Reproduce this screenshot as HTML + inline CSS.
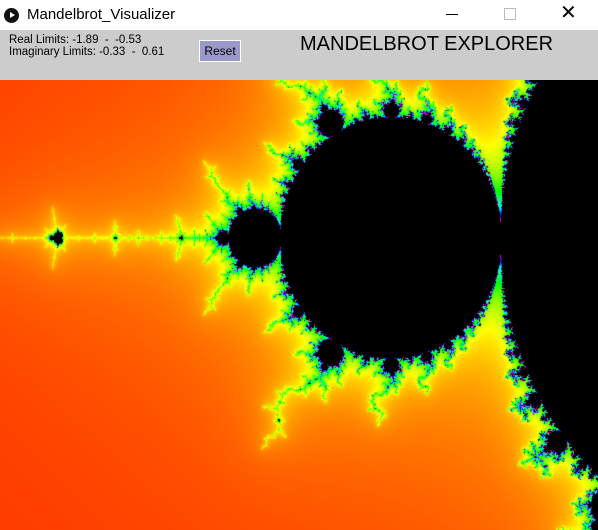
<!DOCTYPE html>
<html><head><meta charset="utf-8"><style>
body{margin:0;width:598px;height:530px;overflow:hidden;background:#fff;font-family:"Liberation Sans",sans-serif;position:relative}
.abs{position:absolute}
</style></head><body>
<div class="abs" style="left:0;top:0;width:598px;height:30px;background:#fff">
  <div class="abs" style="left:4px;top:8px;width:15px;height:15px;border-radius:50%;background:#111"></div>
  <div class="abs" style="left:10px;top:12px;width:0;height:0;border-left:5px solid #fff;border-top:3.5px solid transparent;border-bottom:3.5px solid transparent"></div>
  <div class="abs" style="left:27px;top:6px;font-size:15px;color:#000">Mandelbrot_Visualizer</div>
  <div class="abs" style="left:446px;top:14px;width:12px;height:1px;background:#000"></div>
  <div class="abs" style="left:504px;top:8px;width:10px;height:10px;border:1px solid #bbb"></div>
  <div class="abs" style="left:560px;top:3px;font-size:20px;color:#000;line-height:20px">✕</div>
</div>
<div class="abs" style="left:0;top:30px;width:598px;height:50px;background:#cccccc">
  <div class="abs" style="left:9px;top:4px;font-size:11.5px;line-height:12px;color:#000">Real Limits: -1.89 &nbsp;- &nbsp;-0.53</div>
  <div class="abs" style="left:9px;top:16px;font-size:11.5px;line-height:12px;color:#000">Imaginary Limits: -0.33 &nbsp;- &nbsp;0.61</div>
  <div class="abs" style="left:199px;top:10px;width:40px;height:20px;background:#9999cc;border:1px solid #fff;font-size:12px;line-height:20px;text-align:center;color:#000">Reset</div>
  <div class="abs" style="left:300px;top:3px;font-size:20px;color:#000">MANDELBROT EXPLORER</div>
</div>
<canvas id="c" width="598" height="450" class="abs" style="left:0;top:80px"></canvas>
<script>
const realLimits=[-1.89,-0.53];
const imagLimits=[-0.33,0.61];
const maxIter=[100];
const cv=document.getElementById('c');const ctx=cv.getContext('2d');
const W=cv.width,H=cv.height;const img=ctx.createImageData(W,H);
function hsv(h){h=((h%360)+360)%360;const x=1-Math.abs((h/60)%2-1);let r,g,b;
if(h<60){r=1;g=x;b=0}else if(h<120){r=x;g=1;b=0}else if(h<180){r=0;g=1;b=x}else if(h<240){r=0;g=x;b=1}else if(h<300){r=x;g=0;b=1}else{r=1;g=0;b=x}return[r*255,g*255,b*255]}
const M=maxIter[0];
for(let py=0;py<H;py++){const ci=imagLimits[0]+(py+0.5)*(imagLimits[1]-imagLimits[0])/H;
for(let px=0;px<W;px++){const cr=realLimits[0]+(px+0.5)*(realLimits[1]-realLimits[0])/W;
let zr=0,zi=0,n=0;while(n<M&&zr*zr+zi*zi<256){const t=zr*zr-zi*zi+cr;zi=2*zr*zi+ci;zr=t;n++}
const k=(py*W+px)*4;let c=[0,0,0];
if(n<M){const nu=n+1-Math.log2(Math.log(Math.sqrt(zr*zr+zi*zi)));c=hsv(nu/M*360+2);}
img.data[k]=c[0];img.data[k+1]=c[1];img.data[k+2]=c[2];img.data[k+3]=255;}}
ctx.putImageData(img,0,0);
</script>
</body></html>
